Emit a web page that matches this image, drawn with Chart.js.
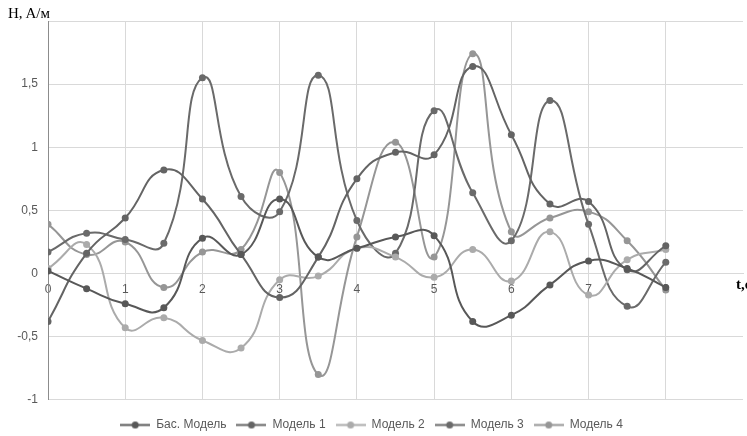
<!DOCTYPE html>
<html>
<head>
<meta charset="utf-8">
<script src="https://cdn.jsdelivr.net/npm/chart.js@4"></script>
<style>
  html, body { margin: 0; padding: 0; background: #fff; overflow: hidden; }
  #wrap { position: relative; width: 747px; height: 436px; }
  #c { position: absolute; left: 0; top: 0; }
  .lbl { position: absolute; font-family: "Liberation Serif", serif; color: #000; white-space: nowrap; }
</style>
</head>
<body>
<div id="wrap">
  <canvas id="c" width="747" height="436"></canvas>
  <div class="lbl" style="left:8px; top:5px; font-size:15px;">H, A/м</div>
  <div class="lbl" style="left:736px; top:276px; font-size:15px; font-weight:bold;">t,c</div>
</div>
<script>
// time points (s)
const tValues = [0, 0.5, 1, 1.5, 2, 2.5, 3, 3.5, 4, 4.5, 5, 5.5, 6, 6.5, 7, 7.5, 8];
const seriesNames = ['Бас. Модель', 'Модель 1', 'Модель 2', 'Модель 3', 'Модель 4'];
const basModel = [0.02, -0.12, -0.24, -0.27, 0.28, 0.15, 0.59, 0.13, 0.20, 0.29, 0.30, -0.38, -0.33, -0.09, 0.10, 0.04, -0.11];
const model1   = [-0.38, 0.16, 0.44, 0.82, 0.59, 0.15, -0.19, 0.13, 0.75, 0.96, 0.94, 1.64, 1.10, 0.55, 0.57, 0.03, 0.22];
const model2   = [0.04, 0.23, -0.43, -0.35, -0.53, -0.59, -0.05, -0.02, 0.20, 0.13, -0.03, 0.19, -0.06, 0.33, -0.17, 0.11, 0.19];
const model3   = [0.17, 0.32, 0.27, 0.24, 1.55, 0.61, 0.49, 1.57, 0.42, 0.16, 1.29, 0.64, 0.26, 1.37, 0.39, -0.26, 0.09];
const model4   = [0.39, 0.15, 0.25, -0.11, 0.17, 0.19, 0.80, -0.80, 0.29, 1.04, 0.13, 1.74, 0.33, 0.44, 0.49, 0.26, -0.13];
const xTicks = [0, 1, 2, 3, 4, 5, 6, 7, 8];
const yTicks = [-1, -0.5, 0, 0.5, 1, 1.5];

const allSeries = [basModel, model1, model2, model3, model4];
const colors = ['#585858', '#646464', '#ababab', '#6a6a6a', '#969696'];

function legendMarker(color) {
  const cv = document.createElement('canvas');
  cv.width = 30; cv.height = 9;
  const g = cv.getContext('2d');
  g.strokeStyle = color; g.lineWidth = 2;
  g.beginPath(); g.moveTo(0, 4.5); g.lineTo(30, 4.5); g.stroke();
  g.fillStyle = color;
  g.beginPath(); g.arc(15, 4.5, 3.5, 0, Math.PI * 2); g.fill();
  return cv;
}

const datasets = allSeries.map((vals, i) => ({
  label: seriesNames[i],
  data: vals.map((v, j) => ({ x: tValues[j], y: v })),
  borderColor: colors[i],
  backgroundColor: colors[i],
  pointBackgroundColor: colors[i],
  pointBorderColor: colors[i],
  pointRadius: 3.5,
  pointBorderWidth: 0,
  borderWidth: 2,
  tension: 0.5,
  fill: false
}));

new Chart(document.getElementById('c'), {
  type: 'line',
  data: { datasets },
  options: {
    responsive: false,
    animation: false,
    devicePixelRatio: 1,
    layout: { padding: { left: 0, right: 4, top: 21, bottom: -5 } },
    plugins: {
      tooltip: { enabled: false },
      legend: {
        position: 'bottom',
        title: { display: true, text: '', font: { size: 1 }, padding: { top: 8, bottom: 0 } },
        labels: {
          usePointStyle: true,
          pointStyleWidth: 30,
          boxHeight: 9,
          padding: 10,
          color: '#595959',
          font: { family: 'Liberation Sans, Arial, sans-serif', size: 12 },
          generateLabels: (chart) => chart.data.datasets.map((ds, i) => ({
            text: ds.label,
            fillStyle: ds.borderColor,
            strokeStyle: ds.borderColor,
            lineWidth: 0,
            pointStyle: legendMarker(ds.borderColor),
            datasetIndex: i,
            hidden: false,
            fontColor: '#595959'
          }))
        }
      }
    },
    scales: {
      x: {
        type: 'linear',
        position: { y: 0 },
        min: 0, max: 9,
        afterBuildTicks: (s) => { s.ticks = xTicks.map(v => ({ value: v })); },
        grid: { color: '#d9d9d9', lineWidth: 1, drawTicks: false },
        border: { color: '#d9d9d9', width: 1 },
        ticks: {
          color: '#595959',
          padding: 9,
          maxRotation: 0,
          font: { family: 'Liberation Sans, Arial, sans-serif', size: 12 },
          callback: (v) => String(v)
        }
      },
      y: {
        type: 'linear',
        min: -1, max: 2,
        afterBuildTicks: (s) => { s.ticks = yTicks.concat([2]).map(v => ({ value: v })); },
        afterFit: (s) => { s.width = 48; },
        grid: { color: '#d9d9d9', lineWidth: 1, drawTicks: false },
        border: { color: '#8c8c8c', width: 1 },
        ticks: {
          color: '#595959',
          padding: 10,
          font: { family: 'Liberation Sans, Arial, sans-serif', size: 12 },
          callback: (v) => (v === 2 ? '' : String(v).replace('.', ','))
        }
      }
    }
  }
});
</script>
</body>
</html>
